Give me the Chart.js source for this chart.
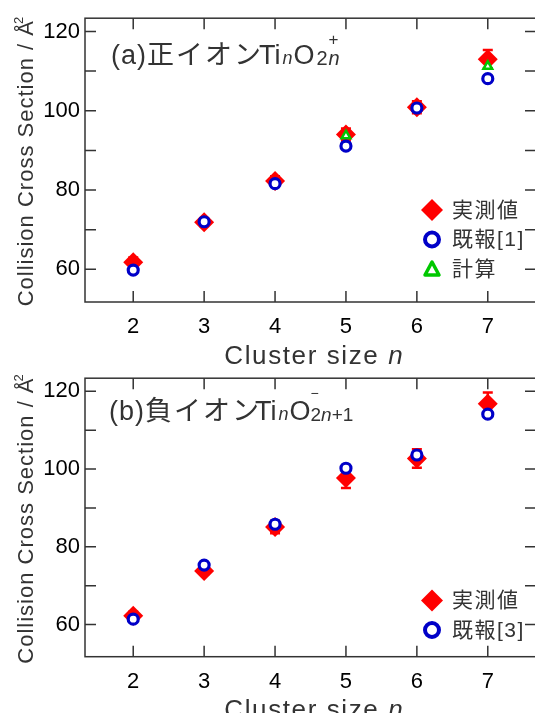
<!DOCTYPE html>
<html>
<head>
<meta charset="utf-8">
<script src="https://cdn.jsdelivr.net/npm/chart.js@4.4.1/dist/chart.umd.min.js"></script>
<style>
  html, body { margin: 0; padding: 0; background: #fff; overflow: hidden; }
  #wrap { position: relative; width: 535px; height: 713px; overflow: hidden; }
  canvas { position: absolute; left: 0; }
  #ca { top: 0; }
  #cb { top: 360px; }
</style>
</head>
<body>
<div id="wrap">
  <canvas id="ca" width="546" height="372"></canvas>
  <canvas id="cb" width="546" height="353"></canvas>
</div>
<script>
// cluster size n
const sizes = [2, 3, 4, 5, 6, 7];
const yTicks = [60, 70, 80, 90, 100, 110, 120];

// (a) cations TinO2n+
const posMeasured = [61.8, 71.9, 82.3, 94.0, 100.9, 113.0];
const posMeasuredErr = [1.2, 1.0, 1.2, 1.5, 1.5, 2.3];
const posReported = [59.8, 72.0, 81.6, 91.1, 100.7, 108.1];
const posCalc = [null, null, null, 93.7, null, 111.2];

// (b) anions TinO2n+1-
const negMeasured = [62.3, 73.8, 85.1, 97.7, 102.7, 116.8];
const negMeasuredErr = [1.0, 1.0, 1.6, 2.6, 2.4, 2.9];
const negReported = [61.4, 75.3, 85.8, 100.2, 103.6, 114.1];

const RED = '#ff0000', BLUE = '#0000c8', GREEN = '#00c800';
const FONT = "'Liberation Sans', 'Noto Sans CJK JP', sans-serif";
const TXT = '#333';

function rich(ctx, x, y, segs, dry) {
  segs.forEach(s => {
    ctx.font = s.f;
    ctx.letterSpacing = (s.ls || 0) + 'px';
    const dx = s.dx || 0;
    if (!dry) ctx.fillText(s.t, x + dx, y + (s.dy || 0));
    if (!s.stay) x += ctx.measureText(s.t).width + dx;
  });
  return x;
}

function marker(ctx, kind, cx, cy) {
  ctx.save();
  ctx.beginPath();
  if (kind === 'diamond') {
    ctx.fillStyle = RED;
    ctx.moveTo(cx - 11, cy); ctx.lineTo(cx, cy - 11); ctx.lineTo(cx + 11, cy); ctx.lineTo(cx, cy + 11);
    ctx.closePath(); ctx.fill();
  } else if (kind === 'circle') {
    ctx.strokeStyle = BLUE; ctx.lineWidth = 4;
    ctx.arc(cx, cy, 7, 0, Math.PI * 2); ctx.stroke();
  } else {
    ctx.strokeStyle = GREEN; ctx.lineWidth = 3.5; ctx.lineJoin = 'round';
    ctx.moveTo(cx, cy - 7); ctx.lineTo(cx + 7, cy + 6); ctx.lineTo(cx - 7, cy + 6);
    ctx.closePath(); ctx.stroke();
  }
  ctx.restore();
}

function deco(cfg) {
  return {
    id: 'deco',
    beforeDatasetsDraw(chart) {
      const { ctx, scales: { x, y } } = chart;
      ctx.save();
      ctx.strokeStyle = RED;
      ctx.lineWidth = 2.5;
      cfg.errVals.forEach((v, i) => {
        const e = cfg.errs[i];
        const px = x.getPixelForValue(sizes[i]);
        const t = y.getPixelForValue(v + e), b = y.getPixelForValue(v - e);
        ctx.beginPath();
        ctx.moveTo(px, t); ctx.lineTo(px, b);
        ctx.moveTo(px - 5, t); ctx.lineTo(px + 5, t);
        ctx.moveTo(px - 5, b); ctx.lineTo(px + 5, b);
        ctx.stroke();
      });
      ctx.restore();
    },
    afterDraw(chart) {
      const { ctx, chartArea: a, scales: { x, y } } = chart;
      ctx.save();
      // frame + inward ticks
      ctx.strokeStyle = '#333';
      ctx.lineWidth = 1.5;
      ctx.strokeRect(a.left, a.top, a.right - a.left, a.bottom - a.top);
      ctx.beginPath();
      yTicks.forEach(v => {
        const py = y.getPixelForValue(v);
        ctx.moveTo(a.left, py); ctx.lineTo(a.left + 11, py);
        ctx.moveTo(a.right, py); ctx.lineTo(a.right - 11, py);
      });
      sizes.forEach(v => {
        const px = x.getPixelForValue(v);
        ctx.moveTo(px, a.bottom); ctx.lineTo(px, a.bottom - 11);
        ctx.moveTo(px, a.top); ctx.lineTo(px, a.top + 11);
      });
      ctx.stroke();

      ctx.fillStyle = TXT;
      ctx.textBaseline = 'alphabetic';
      ctx.textAlign = 'left';
      // panel label
      rich(ctx, cfg.labelX, cfg.labelY, cfg.label);

      // legend
      cfg.legend.forEach((it, i) => {
        const cy = cfg.legendY + i * 29.5;
        marker(ctx, it.m, 432, cy);
        ctx.fillStyle = TXT;
        ctx.font = `21px ${FONT}`;
        ctx.letterSpacing = '1.5px';
        ctx.textBaseline = 'middle';
        ctx.fillText(it.t, 452, cy + 1);
      });
      ctx.textBaseline = 'alphabetic';

      // x title
      const xt = [
        { t: 'Cluster size ', f: `26px ${FONT}`, ls: 1.6 },
        { t: 'n', f: `italic 26px ${FONT}` }
      ];
      const xw = rich(ctx, 0, 0, xt, true);
      rich(ctx, (a.left + a.right) / 2 + 3 - xw / 2, a.bottom + 61.5, xt);

      // y title
      const yt = [
        { t: 'Collision Cross Section / Å', f: `22px ${FONT}`, ls: 1 },
        { t: '2', f: `13px ${FONT}`, dy: -10, dx: -4 }
      ];
      const yw = rich(ctx, 0, 0, yt, true);
      ctx.translate(33, (a.top + a.bottom) / 2 + 1.5);
      ctx.rotate(-Math.PI / 2);
      rich(ctx, -yw / 2, 0, yt);
      ctx.restore();
    }
  };
}

function makeChart(id, top, axisH, datasets, cfg) {
  return new Chart(document.getElementById(id), {
    type: 'scatter',
    data: { datasets },
    options: {
      responsive: false,
      animation: false,
      events: [],
      layout: { padding: { top: top, right: 3, left: 0, bottom: 0 } },
      plugins: { legend: { display: false }, tooltip: { enabled: false } },
      scales: {
        x: {
          type: 'linear', min: 1.32, max: 7.68,
          afterBuildTicks: s => { s.ticks = sizes.map(v => ({ value: v })); },
          afterFit: s => { s.height = axisH; },
          grid: { display: false, drawTicks: false },
          border: { display: false },
          ticks: { autoSkip: false, maxRotation: 0, padding: 12, color: '#000', font: { family: FONT, size: 22 } }
        },
        y: {
          type: 'linear', min: 51.75, max: 123.35,
          afterBuildTicks: s => { s.ticks = yTicks.map(v => ({ value: v })); },
          afterFit: s => { s.width = 85; },
          grid: { display: false, drawTicks: false },
          border: { display: false },
          ticks: { padding: 5, color: '#000', font: { family: FONT, size: 22 },
                   callback: v => (v % 20 === 0 ? v : '') }
        }
      }
    },
    plugins: [deco(cfg)]
  });
}

const pts = vals => vals.map((v, i) => ({ x: sizes[i], y: v })).filter(p => p.y !== null);
const measuredSet = vals => ({ data: pts(vals), order: 3, pointStyle: 'rectRot', pointRadius: 10,
  backgroundColor: RED, borderColor: RED, borderWidth: 0 });
const reportedSet = vals => ({ data: pts(vals), order: 1, pointStyle: 'circle', pointRadius: 5,
  backgroundColor: '#fff', borderColor: BLUE, borderWidth: 3.2 });
const calcSet = vals => ({ data: pts(vals), order: 2, pointStyle: 'triangle', pointRadius: 5,
  backgroundColor: '#fff', borderColor: GREEN, borderWidth: 2.5 });

makeChart('ca', 16, 70,
  [measuredSet(posMeasured), calcSet(posCalc), reportedSet(posReported)],
  {
    errVals: posMeasured, errs: posMeasuredErr,
    labelX: 111, labelY: 64,
    label: [
      { t: '(a)', f: `27px ${FONT}`, ls: 1 },
      { t: '正イオン', f: `27px ${FONT}`, ls: 2 },
      { t: 'Ti', f: `27px ${FONT}`, dx: -4 },
      { t: 'n', f: `italic 18px ${FONT}`, dx: 2 },
      { t: 'O', f: `27px ${FONT}`, dx: 1 },
      { t: '+', f: `17px ${FONT}`, dx: 14, dy: -19, stay: true },
      { t: '2', f: `20px ${FONT}`, dx: 2, dy: 1, ls: 1 },
      { t: 'n', f: `italic 20px ${FONT}`, dy: 1 }
    ],
    legendY: 210,
    legend: [{ m: 'diamond', t: '実測値' }, { m: 'circle', t: '既報[1]' }, { m: 'triangle', t: '計算' }]
  });

makeChart('cb', 12.3, 56.3,
  [measuredSet(negMeasured), reportedSet(negReported)],
  {
    errVals: negMeasured, errs: negMeasuredErr,
    labelX: 109, labelY: 60,
    label: [
      { t: '(b)', f: `27px ${FONT}`, ls: 1 },
      { t: '負イオン', f: `27px ${FONT}`, ls: 2 },
      { t: 'Ti', f: `27px ${FONT}`, dx: -6 },
      { t: 'n', f: `italic 18px ${FONT}`, dx: 2 },
      { t: 'O', f: `27px ${FONT}`, dx: 1 },
      { t: '−', f: `14px ${FONT}`, dx: 0, dy: -22, stay: true },
      { t: '2', f: `19px ${FONT}`, dy: 1 },
      { t: 'n', f: `italic 19px ${FONT}`, dy: 1 },
      { t: '+1', f: `19px ${FONT}`, dy: 1 }
    ],
    legendY: 240.5,
    legend: [{ m: 'diamond', t: '実測値' }, { m: 'circle', t: '既報[3]' }]
  });
</script>
</body>
</html>
